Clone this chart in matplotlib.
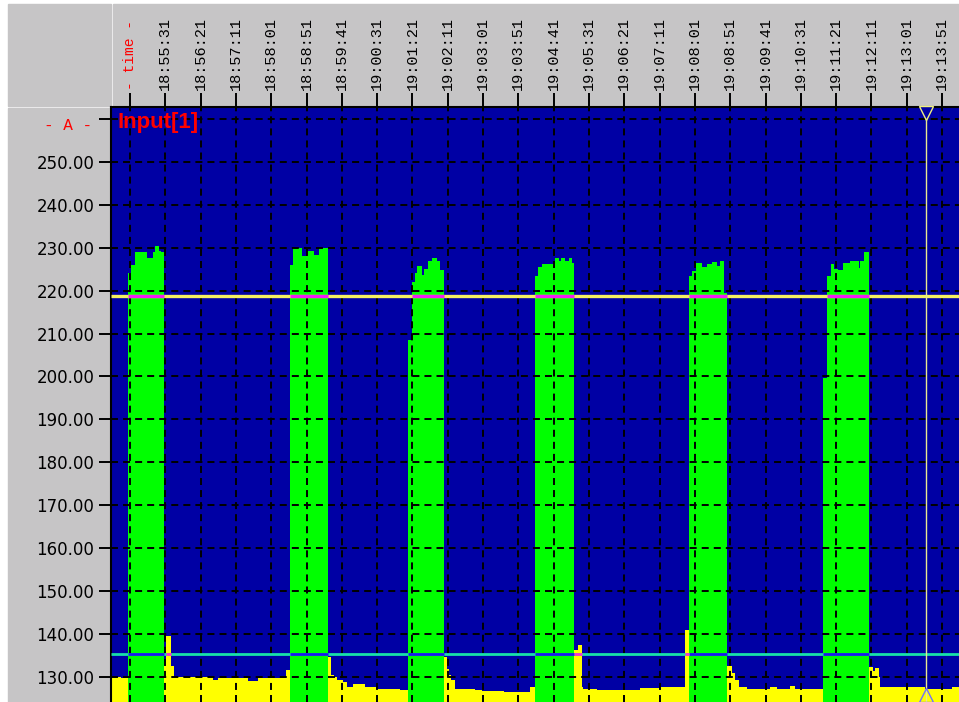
import matplotlib
matplotlib.use("Agg")
import matplotlib.pyplot as plt
import matplotlib.transforms as mtransforms
from matplotlib.patches import Rectangle

# time axis: seconds after 18:54:41, current in A
# step series: start times of each step, last entry closes the segment
on1_t = [-3, 1, 7, 24, 32, 35, 41, 44, 48]
on1_a = [224, 226, 229, 227.7, 229, 230.5, 229.2, 229, 229]
on2_t = [226, 231, 243, 251, 260, 267, 280]
on2_a = [226, 230, 228, 229.2, 228.3, 230, 230]
on3_t = [393, 399, 403, 406, 414, 417, 422, 427, 434, 439, 444]
on3_a = [208.5, 222, 224, 225.8, 223.7, 225, 226.8, 227.5, 226.8, 224.8, 224.8]
on4_t = [574, 578, 584, 602, 607, 611, 616, 621, 626, 629]
on4_a = [223.3, 225.4, 226.2, 227.5, 226.8, 227.5, 226.8, 227.5, 226.4, 226.4]
on5_t = [792, 796.5, 802, 810, 817, 824, 831, 835, 840.5, 846]
on5_a = [223.4, 224.6, 226.4, 225.4, 226.2, 226.6, 225.8, 226.8, 219.5, 219.5]
on6_t = [982, 987, 992.5, 997, 1003, 1010, 1019, 1032, 1034, 1040, 1047]
on6_a = [199.6, 223.4, 226.2, 225, 224.8, 226.4, 226.8, 225.2, 226.8, 228.9, 228.9]

off0_t = [-27, -13, -3]
off0_a = [130, 129.6, 129.6]
off1_t = [48, 50.5, 58, 62, 117, 125, 167, 181, 221, 226]
off1_a = [132.6, 139.5, 132.6, 130, 129.2, 129.7, 128.9, 129.7, 131.5, 131.5]
off2_t = [280, 285, 289, 293, 302, 307, 316, 333, 349, 382, 393]
off2_a = [134.7, 130.4, 130, 129.2, 128.7, 127.6, 128.4, 127.5, 127.2, 127, 127]
off3_t = [444, 448.5, 452, 454, 460, 489, 498, 529, 566.6, 574]
off3_a = [134.5, 131.9, 130.4, 129.2, 127.2, 127, 126.6, 126.5, 127.6, 127.6]
off4_t = [629, 634, 640, 642, 661, 680, 722, 751, 786, 792]
off4_a = [136.2, 137.4, 127.6, 127.2, 126.9, 126.9, 127.4, 127.5, 140.8, 140.8]
off5_t = [846, 852, 857, 862, 873.5, 906.5, 916, 935, 942, 982]
off5_a = [132.5, 130.8, 129.2, 127.6, 127.2, 127.6, 127.2, 127.8, 127.2, 127.2]
off6_t = [1047, 1052, 1055, 1060, 1062, 1126, 1164, 1174]
off6_a = [132.2, 131.3, 132, 130, 127.6, 127.2, 127.6, 127.6]

upper_limit = 218.8
lower_limit = 135.3
cursor_t = 1127.5

tick_labels = ["- time -", "18:55:31", "18:56:21", "18:57:11", "18:58:01", "18:58:51",
               "18:59:41", "19:00:31", "19:01:21", "19:02:11", "19:03:01", "19:03:51",
               "19:04:41", "19:05:31", "19:06:21", "19:07:11", "19:08:01", "19:08:51",
               "19:09:41", "19:10:31", "19:11:21", "19:12:11", "19:13:01", "19:13:51"]
tick_step = 50
y_ticks = [130, 140, 150, 160, 170, 180, 190, 200, 210, 220, 230, 240, 250, 260]

on_series = [(on1_t, on1_a), (on2_t, on2_a), (on3_t, on3_a),
             (on4_t, on4_a), (on5_t, on5_a), (on6_t, on6_a)]
off_series = [(off0_t, off0_a), (off1_t, off1_a), (off2_t, off2_a), (off3_t, off3_a),
              (off4_t, off4_a), (off5_t, off5_a), (off6_t, off6_a)]

NAVY = "#0000a4"
GREEN = "#00ff00"
YELLOW = "#ffff00"
PANEL = "#c6c5c6"


def spans_above(t, a, level):
    # intervals where a step series sits above a level
    out = []
    for i in range(len(t) - 1):
        if a[i] > level:
            if out and abs(out[-1][1] - t[i]) < 1e-9:
                out[-1][1] = t[i + 1]
            else:
                out.append([t[i], t[i + 1]])
    return out


fig = plt.figure(figsize=(9.59, 7.02), dpi=100, facecolor="white")
W, H = 959.0, 702.0

# grey frame panels (behind the axes)
for rect in [(8, 4, 103, 102), (113, 4, W - 113, 102), (8, 108, 103, H - 108)]:
    x, y, w, h = rect
    fig.patches.append(Rectangle((x / W, 1 - (y + h) / H), w / W, h / H,
                                 transform=fig.transFigure, color=PANEL, zorder=-5))

ax = fig.add_axes([111 / W, 0, 1 - 111 / W, 1 - 107 / H])
ax.set_facecolor(NAVY)

for t, a in off_series:
    ax.fill_between(t, 0, a, step="post", color=YELLOW, lw=0, zorder=1)
for t, a in on_series:
    ax.fill_between(t, 0, a, step="post", color=GREEN, lw=0, zorder=1)

x0, x1 = -27, 1174
ax.set_xlim(x0, x1)
ax.set_ylim(124.1, 262.8)

# limit lines, recoloured where they cross the filled signal
ax.hlines(upper_limit, x0, x1, color="#f4f060", lw=2.4, zorder=3)
for t, a in on_series:
    for s0, s1 in spans_above(t, a, upper_limit):
        ax.hlines(upper_limit, s0, s1, color="#f020f0", lw=2.4, zorder=3.1)

ax.hlines(lower_limit, x0, x1, color="#18e0a8", lw=2.0, zorder=3)
for t, a in on_series:
    for s0, s1 in spans_above(t, a, lower_limit):
        ax.hlines(lower_limit, s0, s1, color="#1a1ae8", lw=2.0, zorder=3.1)
for t, a in off_series:
    for s0, s1 in spans_above(t, a, lower_limit):
        ax.hlines(lower_limit, s0, s1, color="#ff30d0", lw=2.0, zorder=3.1)

# cursor
ax.axvline(cursor_t, color="#e8e890", lw=1.0, zorder=4)
ax.plot([cursor_t], [261.3], marker="v", ms=10, mfc=NAVY, mec="#f0f080",
        mew=1.0, zorder=5, clip_on=False)
ax.plot([cursor_t], [125.8], marker="^", ms=10, mfc="none", mec="#7070ff",
        mew=1.0, zorder=5)

# grid
ax.set_axisbelow(False)
ax.grid(True, color="black", linestyle=(0, (3.6, 2.6)), lw=1.4)

ax.set_yticks(y_ticks)
ax.set_yticklabels(["%.2f" % v for v in y_ticks[:-1]] + [""],
                   fontsize=12, family="DejaVu Sans")
ax.tick_params(axis="y", direction="out", length=9, width=1.4, pad=3, colors="black")

ax.xaxis.tick_top()
ax.set_xticks([i * tick_step for i in range(len(tick_labels))])
ax.set_xticklabels(tick_labels, rotation=90, family="Liberation Mono", fontsize=11)
ax.tick_params(axis="x", direction="out", length=10, width=1.4, pad=2)
first = ax.get_xticklabels()[0]
first.set_color("red")
first.set_fontsize(10.5)

for side in ("right", "bottom"):
    ax.spines[side].set_visible(False)
for side in ("left", "top"):
    ax.spines[side].set_color("black")
    ax.spines[side].set_linewidth(1.5)

blend = mtransforms.blended_transform_factory(ax.transAxes, ax.transData)
ax.text(-0.022, 258.6, "- A -", transform=blend, ha="right", va="center",
        color="red", family="Liberation Mono", fontsize=11.5)
ax.text(0.008, 0.992, "Input[1]", transform=ax.transAxes, ha="left", va="top",
        color="red", family="Liberation Sans", fontweight="bold", fontsize=16,
        zorder=6)

fig.savefig("out.png", dpi=100, facecolor="white")
